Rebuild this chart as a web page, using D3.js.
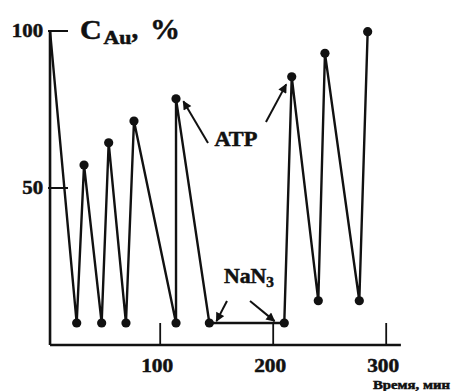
<!DOCTYPE html>
<html><head><meta charset="utf-8">
<script src="https://cdn.jsdelivr.net/npm/d3@7"></script>
<style>
html,body{margin:0;padding:0;background:#fff;}
svg{display:block;}
text{font-family:"Liberation Serif","Times New Roman",serif;font-weight:bold;fill:#111;stroke:#111;stroke-width:0.5px;}
</style></head>
<body>
<svg id="chart" width="451" height="391"></svg>
<script>
// ---- data ----
const times  = [2.5, 26.1, 32.6, 48.2, 54.4, 69.7, 76.8, 114, 114, 143.5, 209.8, 216.4, 239.9, 245.8, 276.2, 283.6];
const values = [100, 7, 57.3, 7, 64.4, 7, 71.3, 7, 78.4, 7, 7, 85.4, 14.1, 92.9, 14.1, 99.8];
const markers = [false, true, true, true, true, true, true, true, true, true, true, true, true, true, true, true];
const xTicks = [100, 200, 300];
const yTicks = [50, 100];
const xDomain = [0, 300];
const yDomain = [0, 100];
const xAxisExtent = [2.5, 313];
const titleParts = [
  {text: "C",  x: 80,    y: 39, size: 27, len: 21.7},
  {text: "Au", x: 103.5, y: 43.5, size: 18, len: 28},
  {text: ",",  x: 131.5, y: 38, size: 27, len: null},
  {text: "%",  x: 150,   y: 38.5, size: 30, len: 30}
];
const annotationLabels = [
  {text: "ATP", t: 167, v: 63.4},
  {text: "NaN", sub: "3", t: 178.5, v: 19.7}
];
const annotationArrows = [
  {t1: 142.3, v1: 64.3, t2: 120.5, v2: 77.6},
  {t1: 193.6, v1: 71.0, t2: 211.5, v2: 83.0},
  {t1: 159.1, v1: 14.0, t2: 149.8, v2: 7.6},
  {t1: 179.5, v1: 14.0, t2: 201.2, v2: 7.6}
];

// ---- drawing ----
const svg = d3.select("#chart");
const x = d3.scaleLinear().domain(xDomain).range([47.2, 386.2]);
const y = d3.scaleLinear().domain(yDomain).range([345, 31]);
const axisX0 = x(xAxisExtent[0]);

svg.append("defs").append("marker")
  .attr("id","ah").attr("viewBox","0 0 10 10").attr("refX",9).attr("refY",5)
  .attr("markerWidth",11).attr("markerHeight",9).attr("markerUnits","userSpaceOnUse")
  .attr("orient","auto")
  .append("path").attr("d","M0,0 L10,5 L0,10 Z").attr("fill","#111");

// x axis
const gx = svg.append("g").attr("transform",`translate(0,${y(0)})`);
gx.append("line").attr("x1",x(xAxisExtent[0])).attr("x2",x(xAxisExtent[1]))
  .attr("stroke","#111").attr("stroke-width",2.6);
gx.selectAll("line.tick").data(xTicks).join("line").attr("class","tick")
  .attr("x1",d=>x(d)).attr("x2",d=>x(d)).attr("y1",0).attr("y2",-22)
  .attr("stroke","#111").attr("stroke-width",1.8);
gx.selectAll("text").data(xTicks).join("text")
  .attr("x",d=>x(d)-3).attr("y",27).attr("text-anchor","middle")
  .attr("font-size",19).attr("textLength",32).attr("lengthAdjust","spacingAndGlyphs").text(d=>d);

// y axis
const gy = svg.append("g").attr("transform",`translate(${axisX0},0)`);
gy.append("line").attr("y1",y(0)).attr("y2",y(100))
  .attr("stroke","#111").attr("stroke-width",2.6);
gy.selectAll("line.tick").data(yTicks).join("line").attr("class","tick")
  .attr("y1",d=>y(d)).attr("y2",d=>y(d)).attr("x1",-2).attr("x2",18)
  .attr("stroke","#111").attr("stroke-width",2);
gy.selectAll("text").data(yTicks).join("text")
  .attr("x",-7).attr("y",d=>y(d)+6).attr("text-anchor","end")
  .attr("font-size",19).attr("textLength",d=>String(d).length*10.4)
  .attr("lengthAdjust","spacingAndGlyphs").text(d=>d);

// y title
svg.selectAll("text.title").data(titleParts).join("text").attr("class","title")
  .attr("x",d=>d.x).attr("y",d=>d.y).attr("font-size",d=>d.size)
  .each(function(d){ if(d.len) d3.select(this).attr("textLength",d.len).attr("lengthAdjust","spacingAndGlyphs"); })
  .text(d=>d.text);

// x title
svg.append("text").attr("x",373).attr("y",389).attr("font-size",12)
  .attr("textLength",77).attr("lengthAdjust","spacingAndGlyphs").text("Время, мин");

// data line
const pts = times.map((t,i)=>({t, v: values[i], m: markers[i]}));
svg.append("path").datum(pts)
  .attr("d", d3.line().x(d=>x(d.t)).y(d=>y(d.v)))
  .attr("fill","none").attr("stroke","#111").attr("stroke-width",2.4)
  .attr("stroke-linejoin","miter");
svg.selectAll("circle.pt").data(pts.filter(d=>d.m)).join("circle").attr("class","pt")
  .attr("cx",d=>x(d.t)).attr("cy",d=>y(d.v)).attr("r",4.6).attr("fill","#111");

// annotations
svg.selectAll("line.arrow").data(annotationArrows).join("line").attr("class","arrow")
  .attr("x1",d=>x(d.t1)).attr("y1",d=>y(d.v1)).attr("x2",d=>x(d.t2)).attr("y2",d=>y(d.v2))
  .attr("stroke","#111").attr("stroke-width",2).attr("marker-end","url(#ah)");
const al = svg.selectAll("text.ann").data(annotationLabels).join("text").attr("class","ann")
  .attr("x",d=>x(d.t)).attr("y",d=>y(d.v)).attr("text-anchor","middle").attr("font-size",20)
  .attr("textLength",d=>d.sub?50:43).attr("lengthAdjust","spacingAndGlyphs");
al.append("tspan").text(d=>d.text);
al.filter(d=>d.sub).append("tspan").attr("font-size",14).attr("dy",4).text(d=>d.sub);
</script>
</body></html>
